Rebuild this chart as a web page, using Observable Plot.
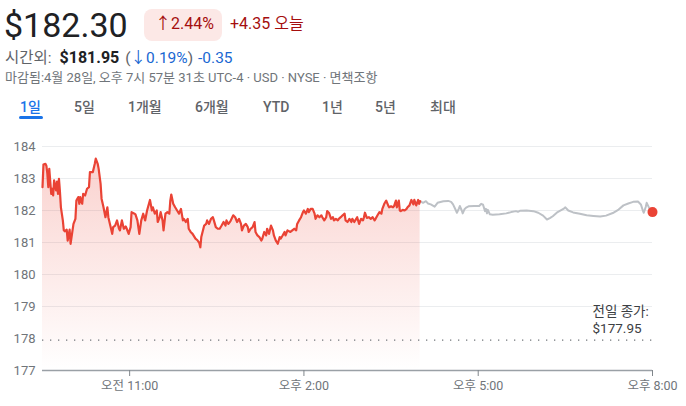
<!DOCTYPE html>
<html>
<head>
<meta charset="utf-8">
<script src="https://cdn.jsdelivr.net/npm/d3@7"></script>
<script src="https://cdn.jsdelivr.net/npm/@observablehq/plot@0.6"></script>
<style>
  html, body { margin: 0; padding: 0; background: #fff; }
  body { width: 686px; height: 406px; position: relative; overflow: hidden;
         font-family: Roboto, "Noto Sans CJK KR", sans-serif; }
  .abs { position: absolute; white-space: nowrap; }
  #price { left: 4px; top: 8px; font-size: 34px; line-height: 34px; color: #202124; }
  #badge { left: 144px; top: 9px; width: 78px; height: 32px; border-radius: 8px; background: #fce8e6; }
  #pct { left: 155px; top: 16px; font-size: 16px; line-height: 16px; color: #a50e0e; }
  #chg { left: 230px; top: 16px; font-size: 16px; line-height: 16px; color: #a50e0e; }
  #after { left: 5px; top: 50px; font-size: 15.5px; line-height: 16px; color: #5f6368; }
  #after b { color: #202124; font-weight: 700; margin-left: 8px; font-size: 16px; }
  #after .paren { margin-left: 6px; }
  #after .blue { color: #1967d2; }
  #after .chgv { margin-left: 5px; }
  #meta { left: 5px; top: 71px; font-size: 13px; line-height: 13px; color: #70757a; }
  .tab { top: 100px; font-size: 14px; line-height: 14px; color: #5f6368; font-weight: 500; }
  .tab.on { color: #1a73e8; }
  #underline { left: 19px; top: 116px; width: 24px; height: 3px; border-radius: 2px; background: #1a73e8; }
  #chart { position: absolute; left: 0; top: 130px; }
</style>
</head>
<body>
<div class="abs" id="price"></div>
<div class="abs" id="badge"></div>
<div class="abs" id="pct"></div>
<div class="abs" id="chg"></div>
<div class="abs" id="after"></div>
<div class="abs" id="meta"></div>
<div id="tabs"></div>
<div class="abs" id="underline"></div>
<div id="chart"></div>
<script>
// ---- header values ----
const lastPrice = "$182.30";
const dayChangePct = "↑2.44%";
const dayChange = "+4.35 오늘";
const afterLabel = "시간외:";
const afterPrice = "$181.95";
const afterPct = "↓0.19%";
const afterChange = "-0.35";
const metaLine = "마감됨:4월 28일, 오후 7시 57분 31초 UTC-4 · USD · NYSE · 면책조항";
const tabLabels = ["1일", "5일", "1개월", "6개월", "YTD", "1년", "5년", "최대"];
const tabLefts = [20, 74, 128, 195, 263, 322, 375, 430];

// ---- chart data ----
const sessionTimes = ["9:30","9:31","9:33","9:34","9:35","9:36","9:37","9:39","9:40","9:41","9:42","9:44","9:45","9:46","9:47","9:48","9:49","9:51","9:52","9:53","9:55","9:56","9:58","9:59",
"10:00","10:02","10:04","10:05","10:07","10:08","10:09","10:11","10:12","10:14","10:16","10:18","10:19","10:22","10:24","10:25","10:27","10:28","10:30","10:31","10:33","10:35","10:37","10:38","10:40","10:42","10:43","10:45","10:47","10:49","10:50","10:52","10:54","10:56","10:57","10:59",
"11:01","11:02","11:05","11:06","11:08","11:10","11:12","11:14","11:16","11:18","11:21","11:23","11:24","11:26","11:28","11:29","11:31","11:32","11:34","11:35","11:37","11:39","11:41","11:42","11:43","11:45","11:47","11:49","11:51","11:53","11:55","11:56","11:58",
"12:00","12:01","12:03","12:05","12:08","12:10","12:12","12:13","12:14","12:17","12:19","12:20","12:22","12:24","12:26","12:27","12:29","12:31","12:33","12:35","12:37","12:39","12:40","12:42","12:44","12:47","12:49","12:51","12:53","12:55","12:56","12:58",
"13:00","13:02","13:03","13:05","13:07","13:09","13:10","13:12","13:14","13:16","13:17","13:19","13:21","13:22","13:24","13:26","13:28","13:29","13:31","13:33","13:35","13:36","13:38","13:40","13:41","13:43","13:46","13:48","13:50","13:52","13:53","13:55","13:57","13:59",
"14:00","14:02","14:04","14:05","14:07","14:09","14:11","14:12","14:14","14:16","14:18","14:19","14:21","14:23","14:24","14:26","14:28","14:30","14:31","14:33","14:35","14:36","14:38","14:40","14:42","14:43","14:45","14:47","14:49","14:50","14:52","14:54","14:55","14:57","14:59",
"15:01","15:02","15:03","15:05","15:07","15:09","15:11","15:13","15:14","15:16","15:18","15:20","15:21","15:23","15:25","15:27","15:28","15:30","15:32","15:33","15:35","15:36","15:38","15:39","15:40","15:42","15:44","15:46","15:47","15:49","15:51","15:53","15:54","15:56","15:58","15:59","16:00"];
const sessionPrices = [182.73,183.44,183.46,183.40,183.15,182.73,183.30,182.52,182.68,182.47,182.94,182.63,182.90,182.52,182.99,182.60,182.10,181.69,181.38,181.35,181.40,181.06,181.40,180.96,
181.17,181.58,181.74,182.31,182.42,182.21,182.42,182.21,182.52,182.47,182.68,182.73,183.20,183.20,183.46,183.62,183.46,183.30,182.83,182.37,182.10,181.79,182.10,181.79,181.53,181.27,181.48,181.53,181.69,181.43,181.38,181.69,181.43,181.50,181.43,181.27,
181.48,181.95,181.90,181.88,181.69,181.27,181.69,181.90,181.69,182.00,182.33,182.00,182.10,181.90,182.00,181.64,181.79,181.95,181.69,181.38,181.90,181.95,181.90,182.31,182.50,182.21,182.10,182.00,181.90,182.05,181.69,181.74,181.64,
181.74,181.43,181.33,181.27,181.12,181.07,180.98,180.85,181.17,181.53,181.58,181.69,181.58,181.74,181.79,181.69,181.48,181.43,181.43,181.53,181.64,181.53,181.69,181.58,181.66,181.85,181.79,181.64,181.74,181.58,181.38,181.53,
181.58,181.48,181.33,181.43,181.48,181.64,181.33,181.22,181.17,181.06,181.12,181.33,181.22,181.43,181.27,181.53,181.38,181.22,181.06,180.96,181.17,181.12,181.22,181.33,181.22,181.38,181.33,181.38,181.43,181.38,181.58,181.69,181.79,181.95,
182.00,181.90,182.05,181.95,182.05,182.05,181.90,181.74,181.85,181.79,181.85,181.79,181.69,181.79,181.98,181.92,181.74,181.79,181.69,181.74,181.69,181.74,181.79,181.85,181.90,181.69,181.64,181.74,181.64,181.74,181.64,181.74,181.79,181.58,181.74,
181.69,181.79,181.93,181.77,181.79,181.74,181.79,181.69,181.74,181.85,181.95,181.90,182.05,182.21,182.31,182.16,182.10,182.13,182.10,182.13,182.31,182.10,182.31,182.00,181.98,182.02,182.00,182.05,182.10,182.16,182.33,182.19,182.33,182.16,182.33,182.21,182.29];

const afterTimes = ["16:00","16:03","16:06","16:08","16:11","16:15","16:18","16:24","16:29","16:32","16:34","16:37","16:38","16:40","16:41","16:43","16:44","16:46","16:48","16:50","16:56",
"17:01","17:03","17:05","17:07","17:08","17:09","17:10","17:12","17:15","17:22","17:29","17:34","17:39","17:41","17:43","17:50","17:57",
"18:02","18:07","18:11","18:14","18:17","18:22","18:28","18:30","18:33","18:38","18:45","18:52","18:59",
"19:06","19:12","19:19","19:25","19:30","19:35","19:40","19:45","19:48","19:50","19:51","19:53","19:54","19:57","20:00"];
const afterPrices = [182.29,182.24,182.29,182.22,182.19,182.12,182.24,182.29,182.30,182.27,182.19,182.00,181.93,182.06,182.14,182.00,181.91,182.05,182.10,182.13,182.14,
182.14,182.21,182.18,181.98,182.05,181.91,182.02,181.88,181.87,181.88,181.91,181.95,181.98,181.96,181.99,182.00,181.98,
181.93,181.84,181.72,181.76,181.82,181.95,182.05,182.10,182.00,181.94,181.90,181.85,181.83,
181.81,181.84,181.92,182.03,182.16,182.22,182.27,182.28,182.19,182.00,181.93,182.11,182.24,182.05,181.95];

const prevClose = 177.95;
const prevCloseLabel = "전일 종가:";
const closeLabelAt = "18:58";
const yDomain = [177, 184];
const yTicks = [177, 178, 179, 180, 181, 182, 183, 184];
const gridTicks = [179, 180, 181, 182, 183, 184];
const xDomain = ["9:30", "20:00"];
const xTickTimes = ["11:00", "14:00", "17:00", "20:00"];
const xTickLabels = ["오전 11:00", "오후 2:00", "오후 5:00", "오후 8:00"];

// ---- header ----
document.getElementById("price").textContent = lastPrice;
document.getElementById("pct").textContent = dayChangePct;
document.getElementById("chg").textContent = dayChange;
document.getElementById("after").innerHTML =
  `${afterLabel}<b>${afterPrice}</b><span class="paren">(<span class="blue">${afterPct}</span>)</span><span class="blue chgv">${afterChange}</span>`;
document.getElementById("meta").textContent = metaLine;
const tabs = document.getElementById("tabs");
tabLabels.forEach((t, i) => {
  const d = document.createElement("div");
  d.className = "abs tab" + (i === 0 ? " on" : "");
  d.style.left = tabLefts[i] + "px";
  d.textContent = t;
  tabs.appendChild(d);
});

// ---- chart ----
const toMin = s => { const [h, m] = s.split(":").map(Number); return h * 60 + m; };
const session = sessionTimes.map((t, i) => ({t: toMin(t), p: sessionPrices[i]}));
const after = afterTimes.map((t, i) => ({t: toMin(t), p: afterPrices[i]}));
const last = after[after.length - 1];
const tickVals = xTickTimes.map(toMin);
const labelFor = v => xTickLabels[tickVals.indexOf(v)];

const chart = Plot.plot({
  width: 686,
  height: 276,
  marginLeft: 42,
  marginRight: 34,
  marginTop: 16,
  marginBottom: 36,
  style: {fontFamily: "Roboto, 'Noto Sans CJK KR', sans-serif", background: "transparent", overflow: "visible"},
  x: {domain: xDomain.map(toMin), axis: null, label: null},
  y: {domain: yDomain, axis: null, label: null},
  marks: [
    Plot.ruleY(gridTicks, {stroke: "#ebedef", strokeWidth: 1}),
    Plot.areaY(session, {x: "t", y1: yDomain[0], y2: "p", fill: "url(#redFade)", curve: "linear"}),
    Plot.ruleY([prevClose], {stroke: "#70757a", strokeWidth: 1.3, strokeDasharray: "1.3,6.7"}),
    Plot.lineY(after, {x: "t", y: "p", stroke: "#bdc1c6", strokeWidth: 2}),
    Plot.lineY(session, {x: "t", y: "p", stroke: "#ea4335", strokeWidth: 2.2}),
    Plot.ruleY([yDomain[0]], {stroke: "#9aa0a6", strokeWidth: 1.5}),
    Plot.axisY({ticks: yTicks, label: null, tickSize: 0, tickPadding: 7, fontSize: 13, fill: "#70757a", tickFormat: d => String(d)}),
    Plot.axisX({ticks: tickVals, label: null, tickFormat: labelFor, tickSize: 6, tickPadding: 5, fontSize: 12.5, stroke: "#80868b", fill: "#70757a"}),
    Plot.dot([last], {x: "t", y: "p", r: 5, fill: "#ea4335"}),
    Plot.text([{t: toMin(closeLabelAt), p: prevClose}], {
      x: "t", y: "p", text: d => `${prevCloseLabel}\n$${d.p.toFixed(2)}`,
      textAnchor: "start", lineAnchor: "bottom", lineHeight: 1.25, dy: -7, fontSize: 13.5, fill: "#3c4043"
    })
  ]
});

const defs = d3.select(chart).insert("defs", ":first-child");
const g = defs.append("linearGradient").attr("id", "redFade").attr("x1", 0).attr("y1", 0).attr("x2", 0).attr("y2", 1);
g.append("stop").attr("offset", "0%").attr("stop-color", "#ea4335").attr("stop-opacity", 0.24);
g.append("stop").attr("offset", "100%").attr("stop-color", "#ea4335").attr("stop-opacity", 0.0);

document.getElementById("chart").appendChild(chart);
</script>
</body>
</html>
